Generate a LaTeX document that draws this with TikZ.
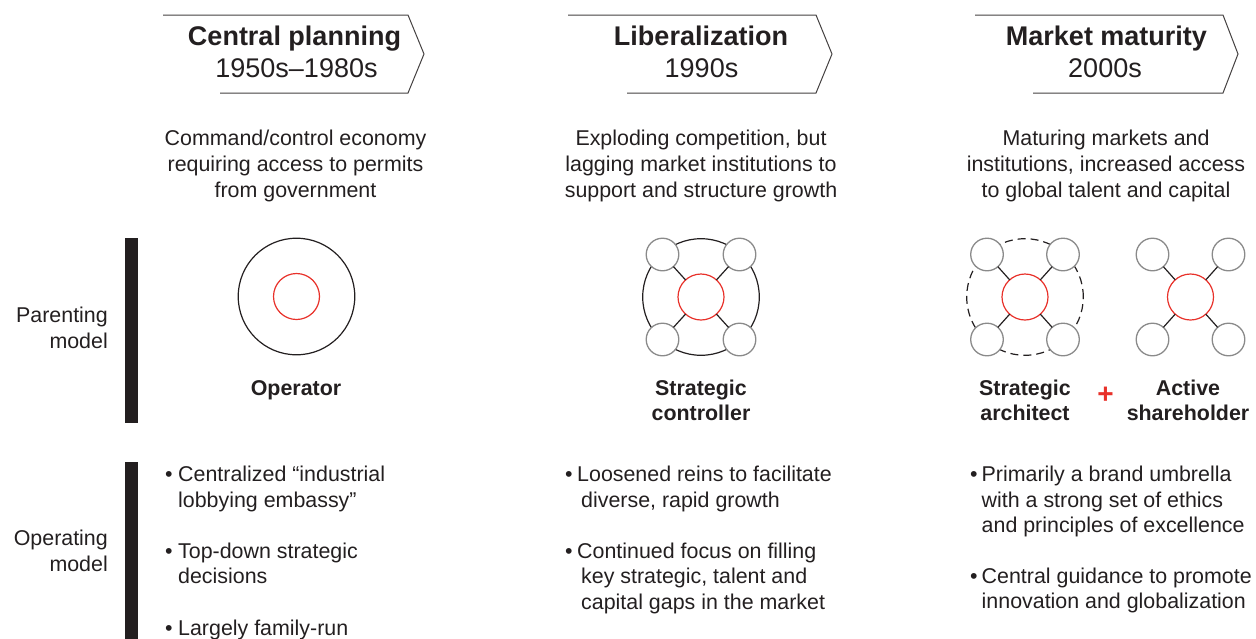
\documentclass[tikz,border=0pt]{standalone}
\usepackage{fontspec}
\setmainfont{Liberation Sans}
\definecolor{ink}{HTML}{231F20}
\definecolor{accent}{HTML}{E8312A}
\definecolor{ringgray}{HTML}{8A8A8A}

% Multi-line nodes below are anchored on the baseline of their last line.
\tikzset{
  chevron/.style={draw=ink!85, line width=1pt, line join=miter},
  hdrtitle/.style={font=\fontsize{27}{32}\selectfont\bfseries, text=ink, anchor=base, inner sep=0pt},
  hdrsub/.style={font=\fontsize{27}{32}\selectfont, text=ink, anchor=base, inner sep=0pt},
  desc/.style={font=\fontsize{21.4}{26}\selectfont, text=ink, align=center, anchor=base, inner sep=0pt},
  role/.style={font=\fontsize{21.4}{24.5}\selectfont\bfseries, text=ink, align=center, anchor=base, inner sep=0pt},
  rowlabel/.style={font=\fontsize{21.4}{26}\selectfont, text=ink, align=right, anchor=base east, inner sep=0pt},
  bulletmark/.style={font=\fontsize{21.4}{25.5}\selectfont, text=ink, anchor=base west, inner sep=0pt},
  bullettext/.style={font=\fontsize{21.4}{25.5}\selectfont, text=ink, align=left, anchor=base west, inner sep=0pt},
  rowbar/.style={fill=ink, draw=none},
  outerring/.style={circle, draw=ink, line width=1.2pt, minimum size=116.6pt, inner sep=0pt, outer sep=0pt},
  dashring/.style={circle, draw=ink, line width=1.2pt, dash pattern=on 8pt off 5pt, minimum size=116.6pt, inner sep=0pt, outer sep=0pt},
  hub/.style={circle, draw=accent, line width=1.2pt, fill=white, minimum size=46pt, inner sep=0pt, outer sep=0pt},
  sat/.style={circle, draw=ringgray, line width=1.3pt, fill=white, minimum size=32.6pt, inner sep=0pt, outer sep=0pt},
  spoke/.style={draw=ink, line width=1.2pt},
  plusmark/.style={font=\fontsize{28}{28}\selectfont\bfseries, text=accent, inner sep=0pt},
}

\begin{document}
\begin{tikzpicture}[x=1pt, y=-1pt]
\useasboundingbox (0,0) rectangle (1256,638);

% ---- period headers -------------------------------------------------
\draw[chevron] (163,15) -- (408,15) -- (424,54) -- (408,93) -- (220,93);
\draw[chevron] (568,15) -- (816,15) -- (832,54) -- (816,93) -- (627,93);
\draw[chevron] (975,15) -- (1223,15) -- (1238,54) -- (1223,93) -- (1033,93);

\node[hdrtitle] (t1) at (294.5,45) {Central planning};
\node[hdrsub]   (s1) at (296.5,77) {1950s–1980s};
\node[hdrtitle] (t2) at (701,45) {Liberalization};
\node[hdrsub]   (s2) at (701.5,77) {1990s};
\node[hdrtitle] (t3) at (1106.5,45) {Market maturity};
\node[hdrsub]   (s3) at (1105,77) {2000s};

% ---- context descriptions -------------------------------------------
\node[desc] (d1) at (295.5,197) {Command/control economy\\requiring access to permits\\from government};
\node[desc] (d2) at (701,197) {Exploding competition, but\\lagging market institutions to\\support and structure growth};
\node[desc] (d3) at (1106,197) {Maturing markets and\\institutions, increased access\\to global talent and capital};

% ---- row labels and bars --------------------------------------------
\fill[rowbar] (125,238) rectangle (138,423);
\fill[rowbar] (125,462) rectangle (138,640);
\node[rowlabel] (lp) at (108,348) {Parenting\\model};
\node[rowlabel] (lo) at (108,571) {Operating\\model};

% ---- operator ---------------------------------------------------------
\node[outerring] (opring) at (296.5,296.5) {};
\node[hub] (ophub) at (296.5,296.5) {};
\node[role] (oprole) at (296,395.5) {Operator};

% ---- strategic controller ---------------------------------------------
\node[outerring] (scring) at (701,297) {};
\node[hub] (schub) at (701,297) {};
\node[sat] (sc1) at (662.5,254.5) {};
\node[sat] (sc2) at (739.5,254.5) {};
\node[sat] (sc3) at (662.5,339.5) {};
\node[sat] (sc4) at (739.5,339.5) {};
\foreach \s in {sc1,sc2,sc3,sc4} \draw[spoke] (schub) -- (\s);
\node[role] (screle) at (701,420) {Strategic\\controller};

% ---- strategic architect ----------------------------------------------
\node[dashring] (saring) at (1025,297) {};
\node[hub] (sahub) at (1025,297) {};
\node[sat] (sa1) at (987,254.5) {};
\node[sat] (sa2) at (1063,254.5) {};
\node[sat] (sa3) at (987,339.5) {};
\node[sat] (sa4) at (1063,339.5) {};
\foreach \s in {sa1,sa2,sa3,sa4} \draw[spoke] (sahub) -- (\s);
\node[role] (sarole) at (1025,420) {Strategic\\architect};

% ---- active shareholder -----------------------------------------------
\node[hub] (ashub) at (1190.5,297) {};
\node[sat] (as1) at (1152.5,254.5) {};
\node[sat] (as2) at (1228.5,254.5) {};
\node[sat] (as3) at (1152.5,339.5) {};
\node[sat] (as4) at (1228.5,339.5) {};
\foreach \s in {as1,as2,as3,as4} \draw[spoke] (ashub) -- (\s);
\node[role] (asrole) at (1188,420) {Active\\shareholder};

\node[plusmark] (plussign) at (1105.5,395) {+};

% ---- operating model bullets --------------------------------------------
\node[bulletmark] (b11) at (165,481.7) {•};
\node[bullettext] (p11) at (178,507.2) {Centralized “industrial\\lobbying embassy”};
\node[bulletmark] (b12) at (165,558) {•};
\node[bullettext] (p12) at (178,583.5) {Top-down strategic\\decisions};
\node[bulletmark] (b13) at (165,635) {•};
\node[bullettext] (p13) at (178,635) {Largely family-run};

\node[bulletmark] (b21) at (565,481.7) {•};
\node[bullettext] (p21) at (577,507.2) {Loosened reins to facilitate\\\hspace*{4pt}diverse, rapid growth};
\node[bulletmark] (b22) at (565,558) {•};
\node[bullettext] (p22) at (577,609) {Continued focus on filling\\\hspace*{4pt}key strategic, talent and\\\hspace*{4pt}capital gaps in the market};

\node[bulletmark] (b31) at (970,481.7) {•};
\node[bullettext] (p31) at (981.5,532.7) {Primarily a brand umbrella\\with a strong set of ethics\\and principles of excellence};
\node[bulletmark] (b32) at (970,583) {•};
\node[bullettext] (p32) at (981.5,608.5) {Central guidance to promote\\innovation and globalization};

\end{tikzpicture}
\end{document}
